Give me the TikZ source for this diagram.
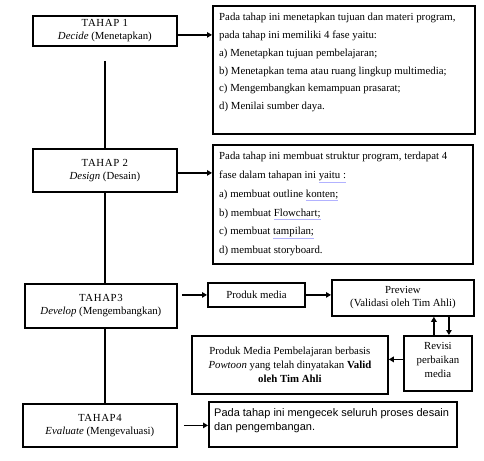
\documentclass[tikz,border=0pt]{standalone}
\usepackage{fontspec}
\setmainfont{Liberation Serif}
\newfontfamily\arialf{Liberation Sans}
\usetikzlibrary{arrows.meta,calc}
\newcommand{\spl}[1]{{\color{blue!30}\underline{\textcolor{black}{#1}}}}
\newcommand{\tahap}[1]{{\addfontfeature{LetterSpace=6}#1}}
\begin{document}
\begin{tikzpicture}[x=1pt,y=-1pt,
  box/.style={draw, line width=1.8pt, anchor=north west, inner sep=0pt},
  ctext/.style={align=center, font=\fontsize{10.8}{13}\selectfont, inner sep=0pt},
  arr/.style={line width=1.8pt, -{Triangle[length=5pt,width=5.5pt]}},
  ln/.style={line width=1.8pt}]
\useasboundingbox[fill=white] (0,0) rectangle (484,460);

% stage boxes
\node[box, minimum width=144pt, minimum height=30pt] (t1) at (32,15) {};
\node[ctext] at (t1.center) {\tahap{TAHAP 1}\\\textit{Decide} (Menetapkan)};
\node[box, minimum width=144pt, minimum height=43pt] (t2) at (32,148) {};
\node[ctext] at (t2.center) {\tahap{TAHAP 2}\\\textit{Design} (Desain)};
\node[box, minimum width=152pt, minimum height=44pt] (t3) at (24,283) {};
\node[ctext] at (t3.center) {\tahap{TAHAP3}\\\textit{Develop} (Mengembangkan)};
\node[box, minimum width=154pt, minimum height=43pt] (t4) at (22,403) {};
\node[ctext] at (t4.center) {\tahap{TAHAP4}\\\textit{Evaluate} (Mengevaluasi)};

% description boxes
\node[box, minimum width=262pt, minimum height=128pt] (A) at (212,5) {};
\node[anchor=north west, align=left, inner sep=0pt, font=\fontsize{10.8}{17.8}\selectfont]
  at (219,13) {Pada tahap ini menetapkan tujuan dan materi program,\\
  pada tahap ini memiliki 4 fase yaitu:\\
  a) Menetapkan tujuan pembelajaran;\\
  b) Menetapkan tema atau ruang lingkup multimedia;\\
  c) Mengembangkan kemampuan prasarat;\\
  d) Menilai sumber daya.};

\node[box, minimum width=260pt, minimum height=119pt] (B) at (212,144) {};
\node[anchor=north west, align=left, inner sep=0pt, font=\fontsize{10.8}{18.8}\selectfont]
  at (219,152) {Pada tahap ini membuat struktur program, terdapat 4\\
  fase dalam tahapan ini \spl{yaitu :}\\
  a) membuat outline \spl{konten;}\\
  b) membuat \spl{Flowchart;}\\
  c) membuat \spl{tampilan;}\\
  d) membuat storyboard.};

\node[box, minimum width=248pt, minimum height=45pt] (D) at (208,401) {};
\node[anchor=north west, align=left, inner sep=0pt, font=\arialf\fontsize{11}{14.5}\selectfont]
  at (214,408) {Pada tahap ini mengecek seluruh proses desain\\dan pengembangan.};

% develop sub-flow
\node[box, minimum width=97pt, minimum height=24pt] (pm) at (207,282) {};
\node[ctext] at (pm.center) {Produk media};
\node[box, minimum width=142pt, minimum height=36pt] (pv) at (331,279) {};
\node[ctext] at (pv.center) {Preview\\(Validasi oleh Tim Ahli)};
\node[box, minimum width=68pt, minimum height=55pt] (rv) at (403,335) {};
\node[ctext, font=\fontsize{10.8}{14}\selectfont] at ([yshift=3pt]rv.center) {Revisi\\perbaikan\\media};
\node[box, minimum width=196pt, minimum height=58pt] (fp) at (191,335) {};
\node[ctext, font=\fontsize{10.8}{14}\selectfont] at (fp.center) {Produk Media Pembelajaran berbasis\\\textit{Powtoon} yang telah dinyatakan \textbf{Valid}\\\textbf{oleh Tim Ahli}};

% connectors
\coordinate (g1) at ([yshift=-14pt]t1.south);
\draw[ln] (g1) -- (g1 |- t2.north);
\draw[ln] (t2.south) -- (t3.north -| t2.south);
\draw[ln] (t3.south -| t2.south) -- (t4.north -| t2.south);

\draw[arr] ([yshift=-4pt]t1.east) -- ([yshift=-4pt]t1.east -| A.west);
\draw[arr] ([yshift=-2.5pt]t2.east) -- ([yshift=-2.5pt]t2.east -| B.west);
\draw[arr] ([xshift=4pt]t3.east |- pm.west) -- (pm.west);
\draw[arr] (pm.east) -- (pm.east -| pv.west);
\draw[arr] ([xshift=-4pt]rv.north) -- ([xshift=-4pt]rv.north |- pv.south);
\draw[arr] ([xshift=11pt]pv.south -| rv.north) -- ([xshift=11pt]rv.north);
\draw[arr] ([yshift=4pt]rv.west) -- ([yshift=4pt]rv.west -| fp.east);
\draw[arr] ([xshift=6pt]t4.east) -- (t4.east -| D.west);
\end{tikzpicture}
\end{document}
